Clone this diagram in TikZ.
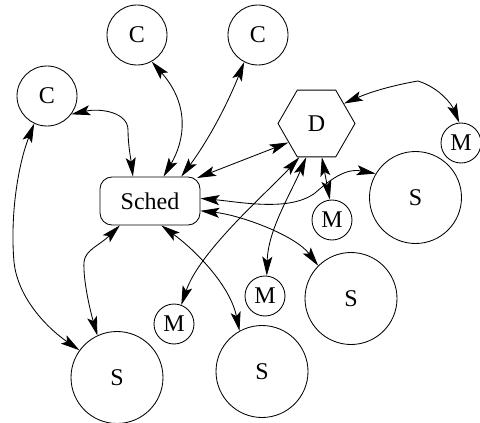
\documentclass[tikz,border=0pt]{standalone}
\usepackage{fontspec}
\setmainfont{Liberation Serif}
\usetikzlibrary{shapes.geometric,arrows.meta,calc}
\begin{document}
\begin{tikzpicture}[x=1pt,y=-1pt,line width=0.85pt,
  >={Stealth[length=19pt,width=10pt,inset=4pt]},
  lbl/.style={font=\fontsize{24}{28}\selectfont, inner sep=0pt, draw},
  cnode/.style={lbl, circle, minimum size=60pt},
  snode/.style={lbl, circle, minimum size=92pt},
  mnode/.style={lbl, circle, minimum size=40pt},
  dnode/.style={lbl, regular polygon, regular polygon sides=6, minimum size=77pt},
  schednode/.style={lbl, rectangle, rounded corners=12pt, minimum width=100pt, minimum height=48pt},
  link/.style={<->}]
\useasboundingbox (0,0) rectangle (480,423);
\node[cnode] (C1) at (137,35) {C};
\node[cnode] (C2) at (258,35) {C};
\node[cnode] (C3) at (47,96) {C};
\node[schednode] (Sched) at (150,201) {Sched};
\node[dnode] (D) at (316.5,123.5) {D};
\node[mnode] (M1) at (461,143) {M};
\node[snode] (S1) at (415.5,197.5) {S};
\node[mnode] (M2) at (332,220) {M};
\node[snode] (S2) at (351,298.5) {S};
\node[mnode] (M3) at (265,296) {M};
\node[snode] (S3) at (262,371.5) {S};
\node[mnode] (M4) at (174,324) {M};
\node[snode] (S4) at (117,377.5) {S};
% C1 - Sched
\draw[link] (C1.-61) .. controls (190,105) and (185,140) .. (Sched.61.5);
% C2 - Sched
\draw[link] (C2.-117) .. controls (225,110) and (205,145) .. (Sched.38.7);
% C3 - Sched
\draw[link] (C3.-37) .. controls (100,108) and (128,112) .. (128,130) .. controls (128,145) and (131,160) .. (Sched.125);
% C3 - S4
\draw[link] (C3.-115) .. controls (18,165) and (10,215) .. (14,262) .. controls (18,300) and (50,330) .. (S4.144);
% Sched - S4
\draw[link] (Sched.-141) .. controls (100,245) and (85,250) .. (84,262) .. controls (83,280) and (90,310) .. (S4.115);
% Sched - S3
\draw[link] (Sched.-65) .. controls (195,250) and (230,285) .. (S3.119);
% Sched - D
\draw[link] ($(Sched.center)+(47,-23)$) -- (D.-146);
% D - M4
\draw[link] (D.-117) .. controls (270,190) and (200,250) .. (M4.69);
% D - M3
\draw[link] (D.-107) .. controls (290,195) and (268,230) .. (M3.85);
% D - M2
\draw[link] (D.-81) -- (M2.96);
% D - M1
\draw[link] (D.36) .. controls (375,90) and (400,84) .. (418,81) .. controls (440,88) and (452,105) .. (M1.95);
% Sched - S1
\draw[link] (Sched.3) .. controls (240,202) and (290,212) .. (315,193) .. controls (330,180) and (345,168) .. (S1.149);
% Sched - S2
\draw[link] (Sched.-11) .. controls (240,215) and (295,235) .. (S2.135);
\end{tikzpicture}
\end{document}
